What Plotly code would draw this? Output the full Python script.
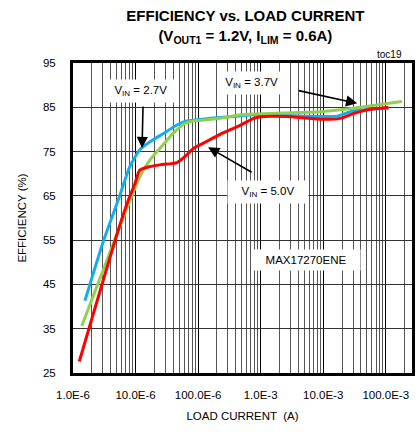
import plotly.graph_objects as go

# ---- data ----
x_ticks = [1e-6, 1e-5, 1e-4, 1e-3, 1e-2, 1e-1]
x_ticktext = ["1.0E-6", "10.0E-6", "100.0E-6", "1.0E-3", "10.0E-3", "100.0E-3"]
y_ticks = [25, 35, 45, 55, 65, 75, 85, 95]

vin27_x = [1.55e-6, 3.05e-6, 5.3e-6, 8.1e-6, 1.17e-5, 1.7e-5, 2.8e-5, 4.6e-5, 6.6e-5,
           1.55e-4, 4.2e-4, 7.7e-4, 8.9e-3, 1.66e-2, 3.05e-2, 1.11e-1]
vin27_y = [41.3, 54.7, 64.1, 71.6, 75.4, 77.2, 79.1, 81.0, 81.9,
           82.5, 83.0, 83.3, 82.9, 83.0, 84.2, 84.8]

vin37_x = [1.38e-6, 3.05e-6, 6.8e-6, 1.17e-5, 1.7e-5, 2.45e-5, 4.0e-5, 6.2e-5, 9.5e-5,
           2.24e-4, 4.7e-4, 7.7e-4, 8.9e-3, 3.05e-2, 1.82e-1]
vin37_y = [35.6, 48.3, 61.1, 69.3, 73.1, 75.7, 79.1, 81.4, 82.0,
           82.5, 83.3, 83.5, 84.0, 84.8, 86.3]

vin50_x = [1.26e-6, 3.05e-6, 5.3e-6, 7.7e-6, 9.8e-6, 1.17e-5, 1.7e-5, 2.45e-5, 4.6e-5,
           6.2e-5, 8.4e-5, 1.22e-4, 2.24e-4, 4.7e-4, 7.7e-4, 1.1e-3, 2.6e-3, 8.9e-3,
           1.86e-2, 3.05e-2, 5.0e-2, 1.11e-1]
vin50_y = [27.6, 46.0, 57.3, 64.1, 67.8, 70.8, 71.6, 72.0, 72.5,
           73.9, 75.7, 76.9, 78.9, 80.9, 82.5, 82.9, 82.9, 82.3,
           82.5, 83.6, 84.4, 85.0]

FONT = "Liberation Sans, Arial"

fig = go.Figure()
for xs, ys, col in [(vin27_x, vin27_y, "#14aef0"),
                    (vin37_x, vin37_y, "#8fd14f"),
                    (vin50_x, vin50_y, "#ff0000")]:
    fig.add_trace(go.Scatter(x=xs, y=ys, mode="lines",
                             line=dict(color=col, width=3, shape="spline", smoothing=0.6),
                             showlegend=False, hoverinfo="skip"))

label_font = dict(family=FONT, size=11.5, color="black")
NB = "&nbsp;"

# text boxes
boxes = [
    (-4.928, 88.7, NB * 2 + "V<sub>IN</sub> = 2.7V" + NB * 2),
    (-3.152, 90.5, NB + "V<sub>IN</sub> = 3.7V" + NB),
    (-2.88, 65.9, NB * 3 + "V<sub>IN</sub> = 5.0V" + NB * 3),
    (-2.272, 50.5, NB * 3 + "MAX17270ENE" + NB * 3),
]
for bx, by, bt in boxes:
    fig.add_annotation(x=bx, y=by, xref="x", yref="y", text=bt, showarrow=False,
                       bgcolor="white", font=label_font, borderpad=4)

# arrows
arrows = [(-4.896, 75.8, 1, -43), (-1.456, 85.9, -60, -13), (-3.84, 76.0, 45, 26)]
for hx, hy, ax, ay in arrows:
    fig.add_annotation(x=hx, y=hy, xref="x", yref="y", text="", showarrow=True,
                       ax=ax, ay=ay, arrowhead=2, arrowsize=1.4, arrowwidth=1.6,
                       arrowcolor="black")

fig.add_annotation(x=0.975, y=1.0, xref="paper", yref="paper", xanchor="right",
                   yanchor="bottom", yshift=1, text="toc19", showarrow=False,
                   font=dict(family=FONT, size=10, color="black"))

fig.update_layout(
    width=418, height=435,
    margin=dict(l=73, r=6, t=63, b=62, autoexpand=False),
    paper_bgcolor="white", plot_bgcolor="white",
    font=dict(family=FONT, size=11.5, color="black"),
    title=dict(text="<b>EFFICIENCY vs. LOAD CURRENT<br>(V<sub>OUT1</sub> = 1.2V, I<sub>LIM</sub> = 0.6A)</b>",
               x=0.587, xanchor="center", y=1 - 21 / 435, yanchor="top",
               font=dict(family=FONT, size=15, color="black")),
)
fig.update_xaxes(type="log", range=[-6, -0.58], tickvals=x_ticks, ticktext=x_ticktext,
                 showgrid=True, gridcolor="black", gridwidth=1,
                 minor=dict(dtick="D1", showgrid=True, gridcolor="#555555", gridwidth=1, ticks=""),
                 showline=True, linecolor="black", linewidth=3, mirror=True,
                 ticks="", ticklabelstandoff=9, automargin=False,
                 tickfont=dict(family=FONT, size=11.5),
                 title=dict(text="LOAD CURRENT  (A)", standoff=13,
                            font=dict(family=FONT, size=11.5)),
                 zeroline=False)
fig.update_yaxes(range=[25, 95], tickvals=y_ticks, showgrid=True, gridcolor="#333333",
                 gridwidth=1, showline=True, linecolor="black", linewidth=3, mirror=True,
                 ticks="", ticklabelstandoff=12, automargin=False,
                 tickfont=dict(family=FONT, size=11.5),
                 title=dict(text="EFFICIENCY (%)", standoff=14,
                            font=dict(family=FONT, size=11.5)),
                 zeroline=False)

fig.write_html("out.html", config={"displayModeBar": False},
               post_script="document.body.style.margin='0px';")
